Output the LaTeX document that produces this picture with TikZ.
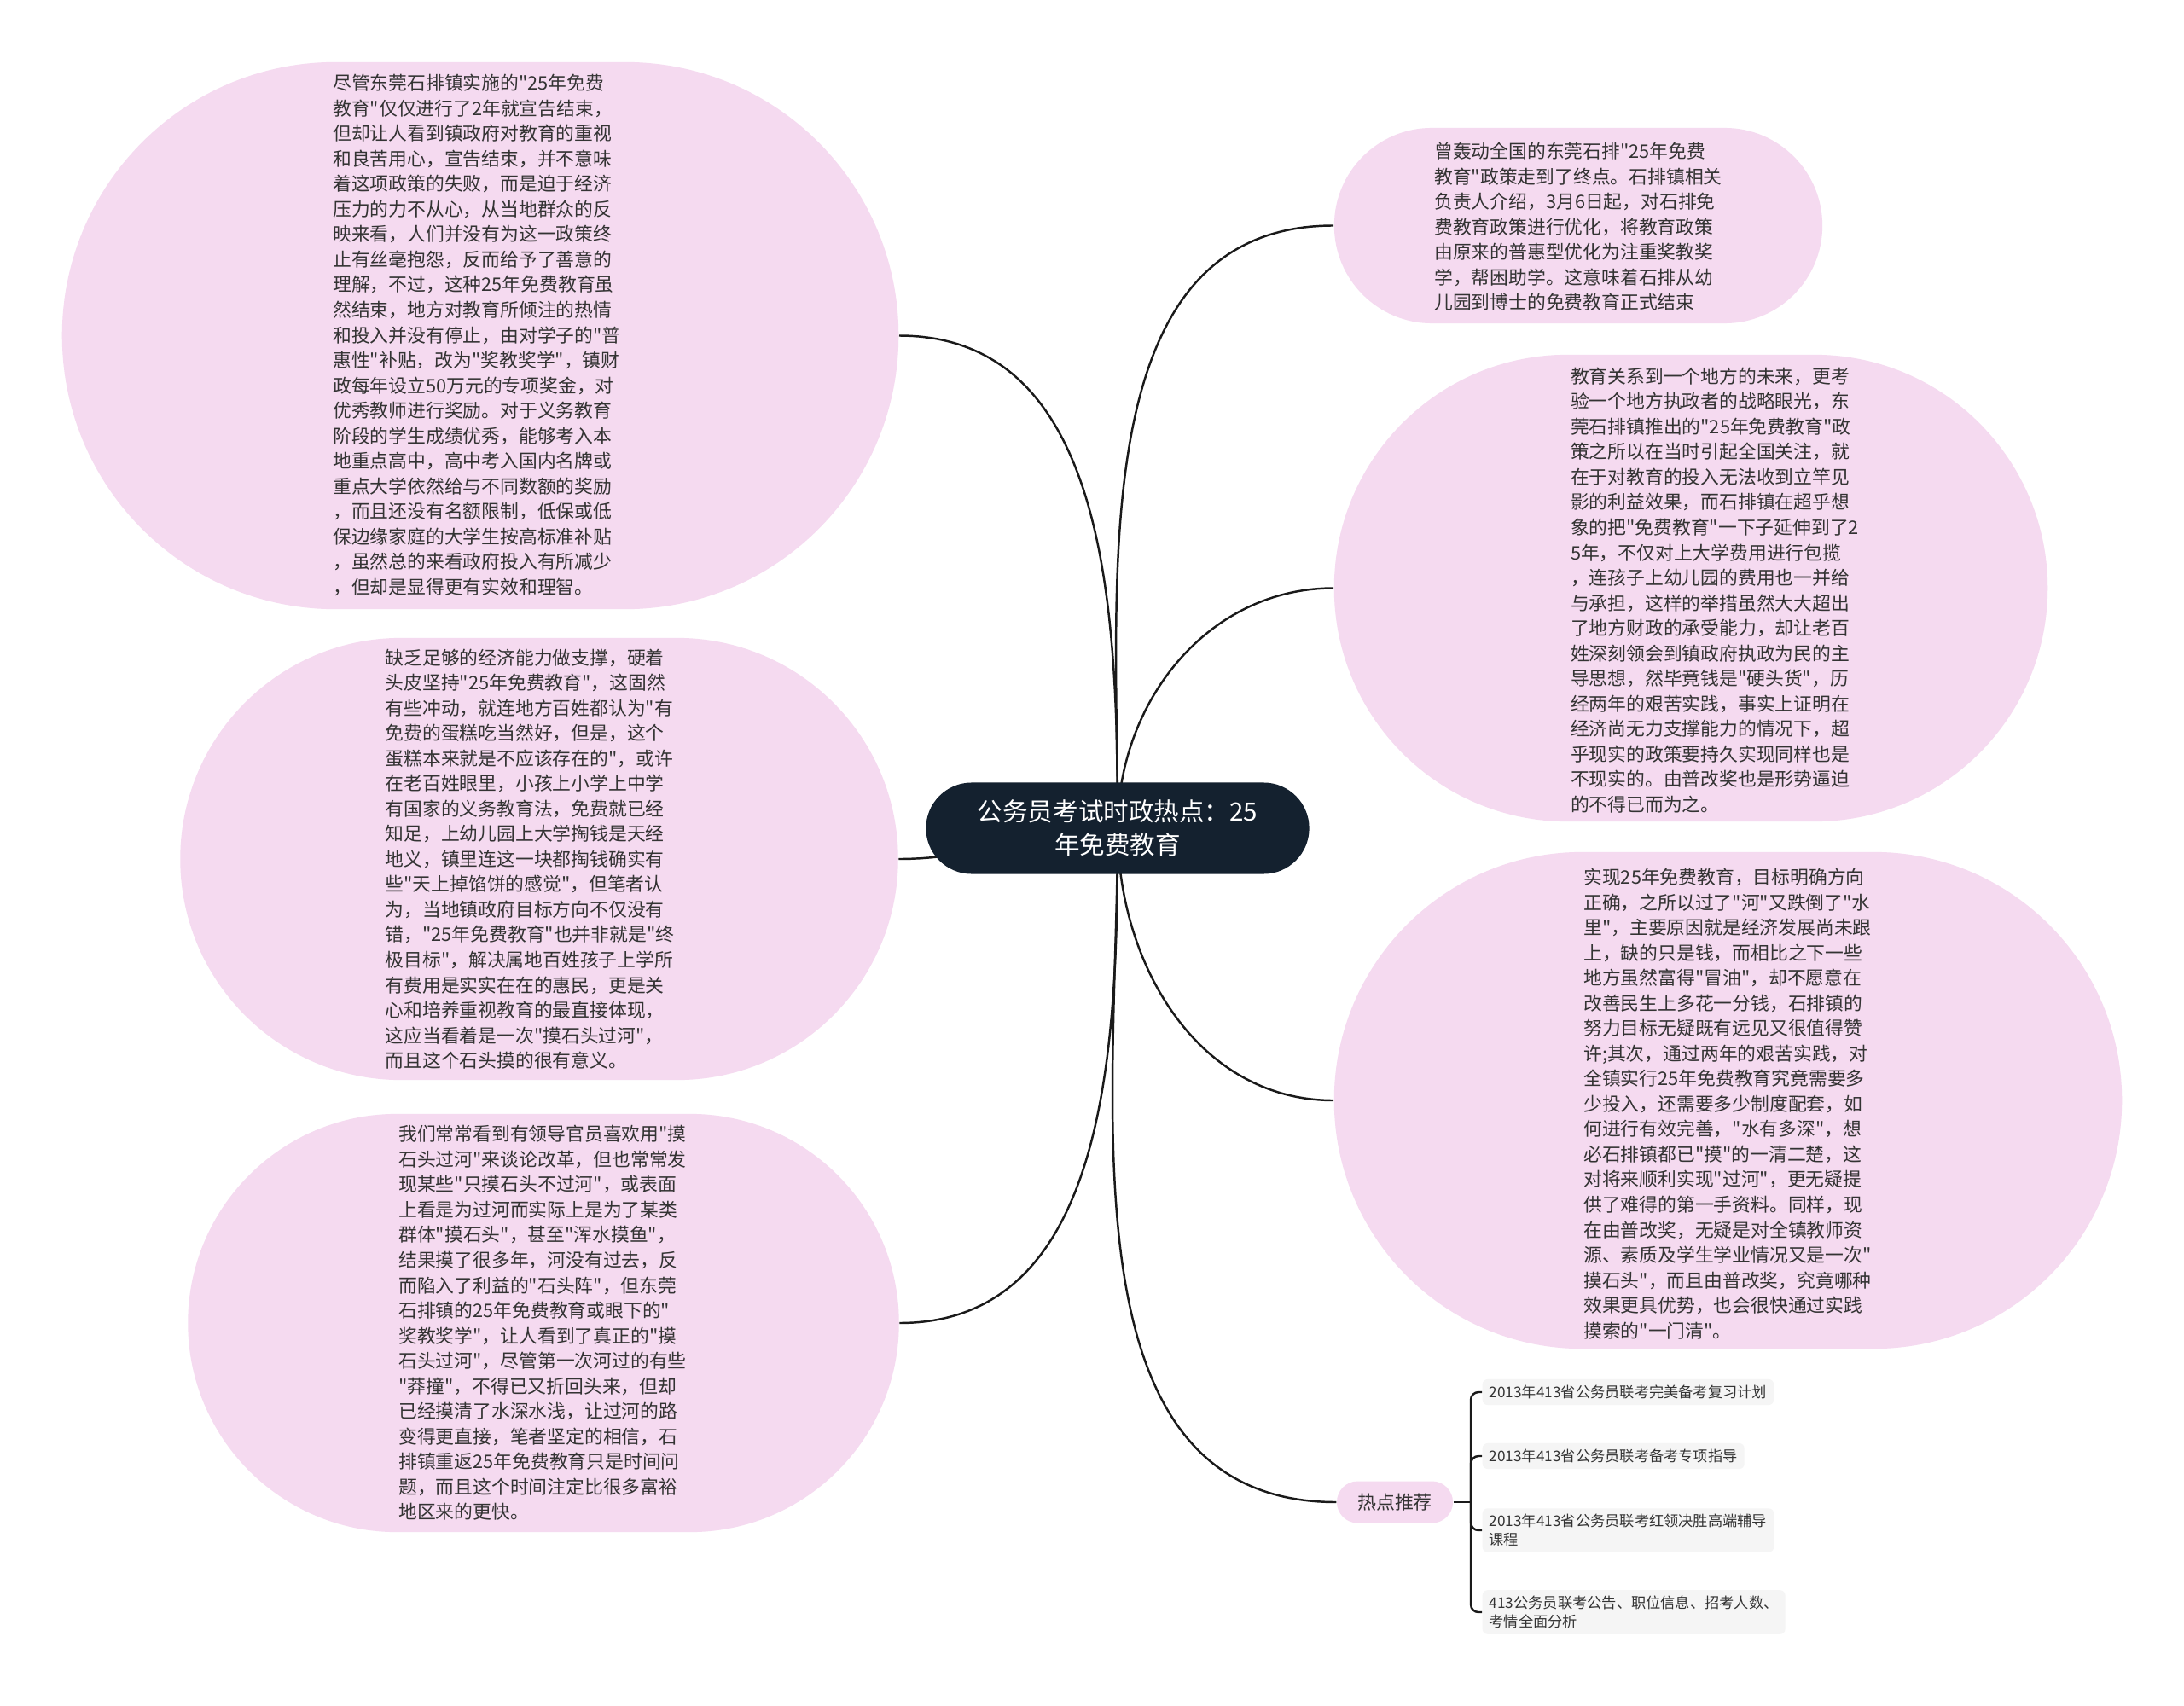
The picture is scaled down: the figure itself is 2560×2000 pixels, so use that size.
\documentclass[tikz,border=0pt]{standalone}
\usepackage{fontspec}
\setmainfont{Noto Sans CJK SC}[Ligatures=TeXOff]
\usetikzlibrary{shapes.misc, backgrounds}
\definecolor{bubblepink}{RGB}{245,218,240}
\definecolor{rootblue}{RGB}{20,33,47}
\definecolor{itemgray}{RGB}{245,245,245}
\definecolor{textgray}{RGB}{51,51,51}
\definecolor{linegray}{RGB}{26,26,26}
\begin{document}
\begin{tikzpicture}[x=0.01cm, y=-0.01cm,
				bubble/.style={rounded rectangle, fill=bubblepink, inner sep=0pt},
				bubbletext/.style={align=left, text=textgray, inner sep=0pt, font=\fontsize{6.2}{8.4}\selectfont},
				rootbox/.style={rounded rectangle, fill=rootblue, text=white, align=center, inner sep=0pt,
					minimum width=4.49cm, minimum height=1.07cm, font=\fontsize{8.4}{11.1}\selectfont},
				hotbox/.style={rounded rectangle, fill=bubblepink, text=textgray, inner sep=0pt,
					minimum width=1.36cm, minimum height=0.49cm, font=\fontsize{6.25}{8}\selectfont},
				itembox/.style={anchor=west, fill=itemgray, rounded corners=0.6mm, align=left, text=textgray,
					inner xsep=0.8mm, inner ysep=0.7mm, font=\fontsize{4.9}{6.1}\selectfont},
				conn/.style={draw=linegray, line width=0.7pt}]
				\useasboundingbox (0,0) rectangle (2560,2000);
				% Hauptknoten
				\node[rootbox] (root) at (1310,971) {公务员考试时政热点：25\\年免费教育};
				% Blasen zeichnen
				\node[bubble, minimum width=9.8cm, minimum height=6.41cm] (b1) at (563,393.5) {};
				\node[bubble, minimum width=8.41cm, minimum height=5.18cm] (b2) at (632,1007) {};
				\node[bubble, minimum width=8.33cm, minimum height=4.9cm] (b3) at (637,1551) {};
				\node[bubble, minimum width=5.72cm, minimum height=2.29cm] (b4) at (1850,264.5) {};
				\node[bubble, minimum width=8.36cm, minimum height=5.47cm] (b5) at (1982,689.5) {};
				\node[bubble, minimum width=9.23cm, minimum height=5.82cm] (b6) at (2025.5,1290) {};
				% Texte in den Blasen
				\node[bubbletext] (t1) at (559,393) {尽管东莞石排镇实施的"25年免费\\教育"仅仅进行了2年就宣告结束，\\但却让人看到镇政府对教育的重视\\和良苦用心，宣告结束，并不意味\\着这项政策的失败，而是迫于经济\\压力的力不从心，从当地群众的反\\映来看，人们并没有为这一政策终\\止有丝毫抱怨，反而给予了善意的\\理解，不过，这种25年免费教育虽\\然结束，地方对教育所倾注的热情\\和投入并没有停止，由对学子的"普\\惠性"补贴，改为"奖教奖学"，镇财\\政每年设立50万元的专项奖金，对\\优秀教师进行奖励。对于义务教育\\阶段的学生成绩优秀，能够考入本\\地重点高中，高中考入国内名牌或\\重点大学依然给与不同数额的奖励\\，而且还没有名额限制，低保或低\\保边缘家庭的大学生按高标准补贴\\，虽然总的来看政府投入有所减少\\，但却是显得更有实效和理智。};
				\node[bubbletext] (t2) at (621,1007) {缺乏足够的经济能力做支撑，硬着\\头皮坚持"25年免费教育"，这固然\\有些冲动，就连地方百姓都认为"有\\免费的蛋糕吃当然好，但是，这个\\蛋糕本来就是不应该存在的"，或许\\在老百姓眼里，小孩上小学上中学\\有国家的义务教育法，免费就已经\\知足，上幼儿园上大学掏钱是天经\\地义，镇里连这一块都掏钱确实有\\些"天上掉馅饼的感觉"，但笔者认\\为，当地镇政府目标方向不仅没有\\错，"25年免费教育"也并非就是"终\\极目标"，解决属地百姓孩子上学所\\有费用是实实在在的惠民，更是关\\心和培养重视教育的最直接体现，\\这应当看着是一次"摸石头过河"，\\而且这个石头摸的很有意义。};
				\node[bubbletext] (t3) at (636,1551) {我们常常看到有领导官员喜欢用"摸\\石头过河"来谈论改革，但也常常发\\现某些"只摸石头不过河"，或表面\\上看是为过河而实际上是为了某类\\群体"摸石头"，甚至"浑水摸鱼"，\\结果摸了很多年，河没有过去，反\\而陷入了利益的"石头阵"，但东莞\\石排镇的25年免费教育或眼下的"\\奖教奖学"，让人看到了真正的"摸\\石头过河"，尽管第一次河过的有些\\"莽撞"，不得已又折回头来，但却\\已经摸清了水深水浅，让过河的路\\变得更直接，笔者坚定的相信，石\\排镇重返25年免费教育只是时间问\\题，而且这个时间注定比很多富裕\\地区来的更快。};
				\node[bubbletext] (t4) at (1850,266) {曾轰动全国的东莞石排"25年免费\\教育"政策走到了终点。石排镇相关\\负责人介绍，3月6日起，对石排免\\费教育政策进行优化，将教育政策\\由原来的普惠型优化为注重奖教奖\\学，帮困助学。这意味着石排从幼\\儿园到博士的免费教育正式结束};
				\node[bubbletext] (t5) at (2010,692) {教育关系到一个地方的未来，更考\\验一个地方执政者的战略眼光，东\\莞石排镇推出的"25年免费教育"政\\策之所以在当时引起全国关注，就\\在于对教育的投入无法收到立竿见\\影的利益效果，而石排镇在超乎想\\象的把"免费教育"一下子延伸到了2\\5年，不仅对上大学费用进行包揽\\，连孩子上幼儿园的费用也一并给\\与承担，这样的举措虽然大大超出\\了地方财政的承受能力，却让老百\\姓深刻领会到镇政府执政为民的主\\导思想，然毕竟钱是"硬头货"，历\\经两年的艰苦实践，事实上证明在\\经济尚无力支撑能力的情况下，超\\乎现实的政策要持久实现同样也是\\不现实的。由普改奖也是形势逼迫\\的不得已而为之。};
				\node[bubbletext] (t6) at (2025,1294) {实现25年免费教育，目标明确方向\\正确，之所以过了"河"又跌倒了"水\\里"，主要原因就是经济发展尚未跟\\上，缺的只是钱，而相比之下一些\\地方虽然富得"冒油"，却不愿意在\\改善民生上多花一分钱，石排镇的\\努力目标无疑既有远见又很值得赞\\许;其次，通过两年的艰苦实践，对\\全镇实行25年免费教育究竟需要多\\少投入，还需要多少制度配套，如\\何进行有效完善，"水有多深"，想\\必石排镇都已"摸"的一清二楚，这\\对将来顺利实现"过河"，更无疑提\\供了难得的第一手资料。同样，现\\在由普改奖，无疑是对全镇教师资\\源、素质及学生学业情况又是一次"\\摸石头"，而且由普改奖，究竟哪种\\效果更具优势，也会很快通过实践\\摸索的"一门清"。};
				%热点推荐 und Unterpunkte
				\node[hotbox] (hot) at (1635,1761) {热点推荐};
				\node[itembox] (i1) at (1737,1632) {2013年413省公务员联考完美备考复习计划};
				\node[itembox] (i2) at (1737,1707) {2013年413省公务员联考备考专项指导};
				\node[itembox] (i3) at (1737,1794) {2013年413省公务员联考红领决胜高端辅导\\课程};
				\node[itembox] (i4) at (1737,1890) {413公务员联考公告、职位信息、招考人数、\\考情全面分析};
				\coordinate (hj) at (1724,1761);
				% Verbindungen zeichnen
				\begin{pgfonlayer}{background}
					\fill[white] (0,0) rectangle (2560,2000);
					\draw[conn] (root.center) to[out=90,in=0] (b1.east);
					\draw[conn] (root.center) to[out=180,in=0] (b2.east);
					\draw[conn] (root.center) to[out=-90,in=0] (b3.east);
					\draw[conn] (root.center) to[out=90,in=180] (b4.west);
					\draw[conn] (root.center) to[out=90,in=180] (b5.west);
					\draw[conn] (root.center) to[out=-90,in=180] (b6.west);
					\draw[conn] (root.center) to[out=-90,in=180] (hot.west);
				\end{pgfonlayer}
				\draw[conn] (hot.east) -- (hj);
				\foreach \n in {i1,i2,i3,i4} \draw[conn, rounded corners=0.9mm] (hj) |- (\n.west);
			\end{tikzpicture}
\end{document}
